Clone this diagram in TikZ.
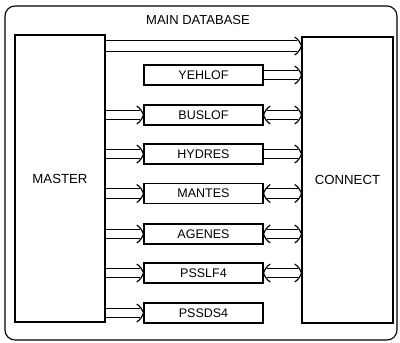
\documentclass[tikz,border=0pt]{standalone}
\usepackage{fontspec}
\setmainfont{Liberation Sans}
\begin{document}
\begin{tikzpicture}[x=1pt,y=-1pt,
  bigbox/.style={draw,line width=1.1pt,inner sep=0pt},
  fbox/.style={draw,line width=1.1pt,minimum width=119pt,minimum height=20pt,inner sep=0pt,font=\fontsize{12.5}{14}\selectfont},
  flow/.style={double,double distance=8.5pt,line width=1.1pt},
  hd/.pic={\draw[line width=1.2pt,line cap=round] (-6.5,-8.8) .. controls (-3.5,-7) and (-0.8,-3) .. (0,0) .. controls (-0.8,3) and (-3.5,7) .. (-6.5,8.8);}]
\newcommand\myflowR[2]{\draw[flow,shorten >=3.6pt] (#1) -- (#2); \pic at (#2) {hd};}
\newcommand\myflowB[2]{\draw[flow,shorten >=3.6pt,shorten <=3.6pt] (#1) -- (#2); \pic at (#2) {hd}; \pic[rotate=180] at (#1) {hd};}
\useasboundingbox (0,0) rectangle (400,343);
\draw[line width=1.1pt,rounded corners=10pt] (5,6) rectangle (397,340);
\node[font=\fontsize{13}{15}\selectfont] (title) at (198,20) {MAIN DATABASE};
\node[bigbox,minimum width=90pt,minimum height=287pt,font=\fontsize{13.2}{15}\selectfont] (master) at (60,178.5) {MASTER};
\node[bigbox,minimum width=91pt,minimum height=286pt,font=\fontsize{13.2}{15}\selectfont] (connect) at (347.5,180) {CONNECT};
\node[fbox] (yehlof) at (203.5,75) {YEHLOF};
\node[fbox] (buslof) at (203.5,115) {BUSLOF};
\node[fbox] (hydres) at (203.5,154) {HYDRES};
\node[fbox] (mantes) at (203.5,193.5) {MANTES};
\node[fbox] (agenes) at (203.5,234) {AGENES};
\node[fbox] (psslf4) at (203.5,273) {PSSLF4};
\node[fbox] (pssds4) at (203.5,313) {PSSDS4};
\coordinate (top) at (200,46);
\draw[flow,double distance=10pt,shorten >=4pt] (master.east |- top) -- (connect.west |- top);
\pic at (connect.west |- top) {hd};
\myflowR{yehlof.east}{connect.west |- yehlof}
\foreach \n in {buslof,hydres,mantes,agenes,psslf4,pssds4}{\myflowR{master.east |- \n}{\n.west}}
\myflowB{buslof.east}{connect.west |- buslof}
\myflowR{hydres.east}{connect.west |- hydres}
\myflowB{mantes.east}{connect.west |- mantes}
\myflowB{agenes.east}{connect.west |- agenes}
\myflowB{psslf4.east}{connect.west |- psslf4}
\end{tikzpicture}
\end{document}
